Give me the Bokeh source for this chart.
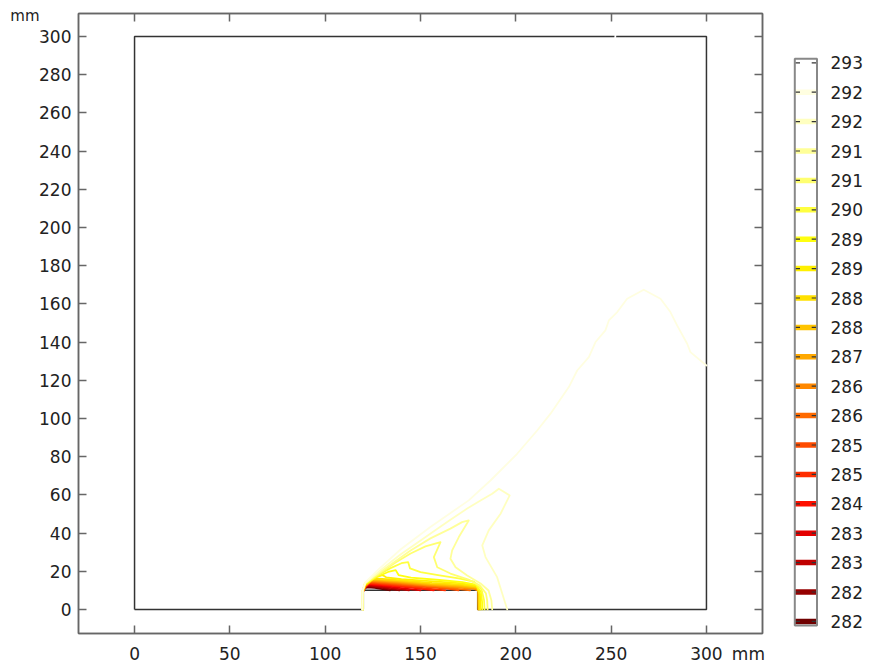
from bokeh.plotting import figure
from bokeh.models import Range1d, FixedTicker, LinearAxis, CustomLabelingPolicy
from bokeh.layouts import row
from bokeh.embed import file_html
from bokeh.resources import INLINE
from bokeh.core.properties import value

# ---------------- data ----------------
x_ticks = [0, 50, 100, 150, 200, 250, 300]
y_ticks = [0, 20, 40, 60, 80, 100, 120, 140, 160, 180, 200, 220, 240, 260, 280, 300]
unit_label = "mm"

# legend levels, top to bottom (K)
level_labels = ["293", "292", "292", "291", "291", "290", "289", "289", "288", "288",
                "287", "286", "286", "285", "285", "284", "283", "283", "282", "282"]
palette = ["#ffffff", "#fffee0", "#ffffc0", "#ffff98", "#ffff70", "#ffff40", "#ffff10",
           "#fff000", "#ffe000", "#ffc400", "#ffa800", "#ff8800", "#ff6a00", "#ff4c00",
           "#ff2e00", "#ff1000", "#e40000", "#c00000", "#960000", "#700000"]

# domain boundary (mm)
bnd_x = [0, 120, 120, 180, 180, 300, 300, 0, 0]
bnd_y = [0, 0, 10, 10, 0, 0, 300, 300, 0]

# contour polylines (mm), c00 = coldest level ... c19 = warmest
c00_x = [120.2, 120.6, 122.0, 126.0, 130.0, 134.0]
c00_y = [10.0, 10.8, 11.6, 11.3, 10.6, 10.0]
c01_x = [120.2, 120.6, 122.2, 127.0, 133.0, 139.0]
c01_y = [10.0, 11.0, 12.1, 11.7, 10.8, 10.0]
c02_x = [120.2, 120.7, 122.5, 128.0, 136.0, 144.0]
c02_y = [10.0, 11.2, 12.6, 12.0, 11.0, 10.0]
c03_x = [120.2, 120.7, 122.8, 130.0, 140.0, 150.0]
c03_y = [10.0, 11.4, 13.0, 12.3, 11.2, 10.0]
c04_x = [120.2, 120.8, 123.0, 132.0, 145.0, 157.0]
c04_y = [10.0, 11.6, 13.4, 12.6, 11.4, 10.0]
c05_x = [120.2, 120.8, 123.3, 134.0, 148.0, 163.0]
c05_y = [10.0, 11.8, 13.8, 12.9, 11.6, 10.0]
c06_x = [120.2, 120.9, 123.6, 135.0, 150.0, 165.0, 170.0]
c06_y = [10.0, 12.0, 14.2, 13.2, 12.0, 10.8, 10.0]
c07_x = [120.2, 120.9, 124.0, 136.0, 152.0, 166.0, 176.0]
c07_y = [10.0, 12.2, 14.6, 13.6, 12.3, 11.2, 10.0]
c08_x = [120.2, 121.0, 124.3, 137.0, 153.0, 168.0, 178.0, 180.0]
c08_y = [10.0, 12.4, 15.0, 14.0, 12.6, 11.6, 10.8, 10.0]
c09_x = [120.2, 121.0, 124.6, 138.0, 154.0, 170.0, 179.0, 180.2, 180.3]
c09_y = [10.0, 12.6, 15.4, 14.4, 13.0, 12.0, 11.2, 10.4, 0.0]
c10_x = [119.8, 119.9, 121.0, 125.0, 139.0, 155.0, 171.0, 179.5, 180.5, 180.6]
c10_y = [0.0, 10.0, 12.8, 15.8, 14.8, 13.4, 12.5, 11.6, 9.0, 0.0]
c11_x = [119.7, 119.8, 121.0, 125.5, 132.0, 140.0, 156.0, 172.0, 179.8, 180.9, 181.0]
c11_y = [0.0, 10.0, 13.0, 16.2, 15.8, 15.2, 13.9, 13.0, 12.0, 8.0, 0.0]
c12_x = [119.7, 119.8, 121.0, 126.0, 130.0, 132.0, 140.0, 155.0, 170.0, 179.5, 181.2, 181.5]
c12_y = [0.0, 10.0, 13.2, 16.8, 18.0, 16.8, 15.8, 14.8, 13.8, 12.6, 8.0, 0.0]
c13_x = [119.6, 119.7, 120.9, 127.0, 133.0, 137.0, 138.5, 145.0, 160.0, 172.0, 179.0, 181.8, 182.3, 182.4]
c13_y = [0.0, 10.0, 13.4, 17.0, 19.6, 20.6, 18.0, 16.6, 15.4, 14.3, 13.0, 9.0, 4.0, 0.0]
c14_x = [119.6, 119.7, 120.9, 127.0, 134.0, 140.0, 143.5, 144.5, 150.0, 160.0, 170.0, 178.0, 182.0, 183.3, 183.6]
c14_y = [0.0, 10.0, 13.6, 17.5, 21.5, 24.2, 24.8, 21.5, 19.5, 17.8, 16.3, 14.5, 10.5, 5.0, 0.0]
c15_x = [119.6, 119.7, 120.9, 128.0, 136.9, 144.8, 152.6, 160.5, 157.0, 158.8, 165.7, 175.2, 181.0, 184.3, 185.0, 185.2]
c15_y = [0.0, 10.0, 13.8, 18.5, 24.6, 29.3, 33.0, 35.2, 27.4, 22.1, 18.8, 15.6, 12.6, 8.5, 4.5, 0.0]
c16_x = [119.6, 119.7, 120.9, 124.8, 134.3, 144.8, 155.2, 165.7, 171.8, 175.3, 170.1, 166.6, 165.7, 168.4, 174.5, 181.5, 185.7, 187.2, 187.6]
c16_y = [0.0, 10.0, 13.9, 17.0, 23.4, 30.9, 37.2, 42.3, 45.7, 46.6, 37.9, 30.9, 26.5, 22.1, 17.8, 13.6, 9.9, 4.7, 0.0]
c17_x = [119.5, 119.6, 121.2, 129.0, 139.5, 156.8, 165.7, 174.5, 181.5, 187.6, 191.1, 196.8, 192.0, 185.8, 182.4, 184.1, 190.2, 195.5]
c17_y = [0.0, 10.0, 14.0, 20.6, 28.8, 40.8, 47.0, 52.8, 57.0, 60.6, 63.2, 59.7, 50.1, 41.4, 33.5, 27.4, 16.9, 0.0]
c18_x = [119.5, 119.6, 121.0, 128.0, 139.5, 155.0, 175.3, 186.7, 200.7, 211.2, 218.2, 227.8, 232.2, 238.3,
         241.8, 247.0, 248.8, 253.2, 258.4, 267.1, 275.9, 281.1, 284.6, 289.9, 291.6, 300.0]
c18_y = [0.0, 10.0, 14.2, 21.0, 31.4, 43.0, 57.1, 67.5, 81.5, 93.7, 102.5, 116.4, 125.1, 132.1,
         140.0, 146.1, 151.3, 155.7, 162.7, 167.4, 162.7, 155.7, 148.7, 139.1, 134.7, 127.7]
c19_x = [251.8, 252.3]
c19_y = [296.5, 301.0]

contours_x = [c00_x, c01_x, c02_x, c03_x, c04_x, c05_x, c06_x, c07_x, c08_x, c09_x,
              c10_x, c11_x, c12_x, c13_x, c14_x, c15_x, c16_x, c17_x, c18_x, c19_x]
contours_y = [c00_y, c01_y, c02_y, c03_y, c04_y, c05_y, c06_y, c07_y, c08_y, c09_y,
              c10_y, c11_y, c12_y, c13_y, c14_y, c15_y, c16_y, c17_y, c18_y, c19_y]

FONT = "DejaVu Sans"
TXT = "#222222"
FRAME = "#666666"
HIDE = "for (const i of indices) indices.unset(i)"

# ---------------- main plot ----------------
p = figure(width=780, height=666, output_backend="svg", toolbar_location=None,
           x_range=Range1d(-29.4, 329.4), y_range=Range1d(-12.6, 312.0),
           min_border_left=78, min_border_right=18, min_border_top=13, min_border_bottom=33)
p.grid.visible = False
p.outline_line_color = FRAME
p.outline_line_width = 1.5


def tick_axis(ax, ticks):
    """axis drawing only inward ticks, no labels"""
    ax.ticker = FixedTicker(ticks=ticks)
    ax.major_tick_in = 8
    ax.major_tick_out = 0
    ax.minor_tick_line_color = None
    ax.major_tick_line_color = FRAME
    ax.major_tick_line_width = 1.5
    ax.axis_line_color = FRAME
    ax.axis_line_width = 1.5
    ax.major_label_standoff = 0
    ax.major_label_text_font_size = "0px"
    ax.major_label_policy = CustomLabelingPolicy(code=HIDE)


def label_axis(ax, ticks, standoff, size, overrides=None):
    """axis drawing only labels"""
    ax.ticker = FixedTicker(ticks=ticks)
    ax.major_tick_in = 0
    ax.major_tick_out = 0
    ax.minor_tick_line_color = None
    ax.major_tick_line_color = None
    ax.axis_line_color = None
    ax.major_label_text_font = FONT
    ax.major_label_text_color = TXT
    ax.major_label_text_font_size = size
    ax.major_label_standoff = standoff
    if overrides:
        ax.major_label_overrides = overrides


# bottom: ticks (closest to frame) then labels with unit
tick_axis(p.xaxis[0], x_ticks)
bottom_labels = LinearAxis()
label_axis(bottom_labels, x_ticks + [322], 10, "17px", {322: unit_label})
p.add_layout(bottom_labels, "below")

# left: ticks + labels, then unit label further out
ly = p.yaxis[0]
ly.ticker = FixedTicker(ticks=y_ticks)
ly.major_tick_in = 8
ly.major_tick_out = 0
ly.minor_tick_line_color = None
ly.major_tick_line_color = FRAME
ly.major_tick_line_width = 1.5
ly.axis_line_color = FRAME
ly.axis_line_width = 1.5
ly.major_label_text_font = FONT
ly.major_label_text_color = TXT
ly.major_label_text_font_size = "17px"
ly.major_label_standoff = 7
left_unit = LinearAxis()
label_axis(left_unit, [310.5], -3, "15px", {310.5: unit_label})
p.add_layout(left_unit, "left")

top_ax = LinearAxis()
tick_axis(top_ax, x_ticks)
p.add_layout(top_ax, "above")
right_ax = LinearAxis()
tick_axis(right_ax, y_ticks)
p.add_layout(right_ax, "right")

p.line(bnd_x, bnd_y, line_color="#333333", line_width=1.5)

n = len(level_labels)
for k in range(n):
    col = palette[n - 1 - k]
    p.line(contours_x[k], contours_y[k], line_color=col, line_width=1.8,
           line_join="round", line_cap="round")

# ---------------- colour legend ----------------
lg = figure(width=99, height=666, output_backend="svg", toolbar_location=None,
            x_range=Range1d(0, 99), y_range=Range1d(633, 13),
            min_border_left=0, min_border_right=0, min_border_top=13, min_border_bottom=33)
lg.axis.visible = False
lg.grid.visible = False
lg.outline_line_color = None

y0, dy = 62.3, 29.4
ys = [y0 + dy * i for i in range(n)]
lg.rect(x=[25.3] * n, y=ys, width=22.0, height=5.5, fill_color=palette, line_color=None)
lg.segment(x0=[14.8] * n, y0=ys, x1=[19.5] * n, y1=ys, line_color="#333333", line_width=1.2)
lg.segment(x0=[31.2] * n, y0=ys, x1=[35.8] * n, y1=ys, line_color="#333333", line_width=1.2)
lg.quad(left=[14.3], right=[36.5], top=[58.3], bottom=[625.0], fill_color=None,
        line_color="#888888", line_width=2)
lg.text(x=[50] * n, y=ys, text=level_labels, text_font=value(FONT), text_font_size="17px",
        text_color=TXT, text_baseline="middle", text_align="left")

layout = row(p, lg)
open("out.html", "w").write(file_html(layout, INLINE))
